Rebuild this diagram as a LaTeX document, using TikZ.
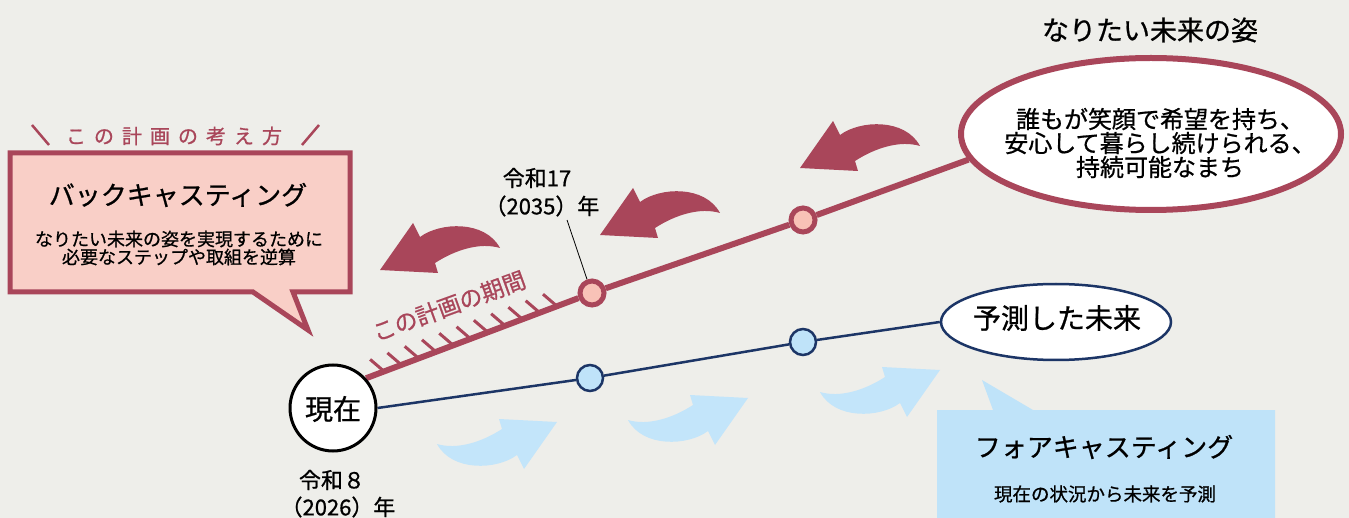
\documentclass[tikz,border=0pt]{standalone}
\usepackage{fontspec}
\setmainfont{Noto Sans CJK JP}[FakeBold=0.8]
\usetikzlibrary{calc,shapes.geometric,backgrounds}
\definecolor{bg}{HTML}{EEEEEA}
\definecolor{wine}{HTML}{A9465A}
\definecolor{pinkfill}{HTML}{F9CFC7}
\definecolor{dotpink}{HTML}{F8C2B7}
\definecolor{navy}{HTML}{1C3566}
\definecolor{skyfill}{HTML}{BFE3F9}
\definecolor{arrowsky}{HTML}{C3E5FA}
\newcommand{\fsz}[1]{\fontsize{#1pt}{#1pt}\selectfont}
\tikzset{
  curvearrow/.pic={\path[pic actions] (0,0) -- (33,-47) -- (40,-33)
     .. controls (60,-48) and (105,-50) .. (120,-22)
     .. controls (100,-28) and (75,-20) .. (55,-7) -- (58,3) -- cycle;},
  reddot/.style={circle, draw=wine, line width=5pt, fill=dotpink, minimum size=24pt, inner sep=0},
  bluedot/.style={circle, draw=navy, line width=2.5pt, fill=skyfill, minimum size=26pt, inner sep=0},
  txt/.style={inner sep=0, align=center, text=black},
  redline/.style={draw=wine, line width=6pt},
  blueline/.style={draw=navy, line width=2.5pt},
  tick/.style={draw=wine, line width=3pt},
}
\begin{document}
\begin{tikzpicture}[x=1pt,y=-1pt]
\useasboundingbox (0,0) rectangle (1349,518);
% title of box
\draw[wine, line width=2.5pt] (32,125) -- (49,145);
\draw[wine, line width=2.5pt] (319,125) -- (302,145);
\node[txt, text=wine, font=\fsz{20}] (ttl) at (174,136) {こ\hspace{8pt}の\hspace{8pt}計\hspace{8pt}画\hspace{8pt}の\hspace{8pt}考\hspace{8pt}え\hspace{8pt}方};
\node[txt, font=\fsz{26}] (back) at (178,195) {バックキャスティング};
\node[txt, font=\fsz{18}] (backsub) at (179,248) {\fontsize{18pt}{22pt}\selectfont なりたい未来の姿を実現するために\\必要なステップや取組を逆算};
% forecasting box text
\node[txt, font=\fsz{26}] (fore) at (1104,447) {フォアキャスティング};
\node[txt, font=\fsz{18.5}] (foresub) at (1105,494) {現在の状況から未来を予測};
% main nodes
\node[circle, draw=black, line width=3pt, fill=white, minimum size=86pt, inner sep=0] (now) at (333,408) {};
\node[txt, font=\fsz{28}] (nowtxt) at (333,409) {現在};
\node[txt, font=\fsz{22}] (y26a) at (332,480) {令和８};
\node[txt, font=\fsz{22}] (y26b) at (338,507) {（2026）年};
\node[reddot] (r1) at (592,293) {};
\node[reddot] (r2) at (803,220) {};
\node[bluedot] (b1) at (590,378) {};
\node[bluedot] (b2) at (803,342) {};
\node[ellipse, draw=wine, line width=6pt, fill=white, minimum width=380pt, minimum height=152pt, inner sep=0] (goal) at (1151,134) {};
\node[txt, font=\fsz{24}] (goaltxt) at (1160,143) {\fontsize{24pt}{31pt}\selectfont 誰もが笑顔で希望を持ち、\\安心して暮らし続けられる、\\持続可能なまち};
\node[txt, font=\fsz{27}] (goalttl) at (1150,30) {なりたい未来の姿};
\node[ellipse, draw=navy, line width=2.5pt, fill=white, minimum width=230pt, minimum height=76pt, inner sep=0] (pred) at (1056,322) {};
\node[txt, font=\fsz{28}] (predtxt) at (1057,318) {予測した未来};
\node[txt, font=\fsz{22}] (y35a) at (537,178) {令和17};
\node[txt, font=\fsz{22}] (y35b) at (542,206) {（2035）年};
\node[txt, text=wine, font=\fsz{23}, rotate=20] (period) at (449,306) {この計画の期間};
\coordinate (ld) at (567,220);
\begin{scope}[on background layer]
  \fill[bg] (0,0) rectangle (1349,518);
  \path[fill=skyfill]
    (937,410) -- (993,410) -- (982,380) -- (1033,410) -- (1275,410) -- (1275,530) -- (937,530) -- cycle;
  \path[fill=pinkfill, draw=wine, line width=5pt, line join=miter]
    (10,153) -- (350,153) -- (350,292) -- (293,292) -- (308,330) -- (253,292) -- (10,292) -- cycle;
  \draw[redline] (now.42) -- (r1) -- (r2) -- (goal.188);
  \draw[blueline] (now.east) -- (b1) -- (b2) -- (pred.west);
  \foreach \i in {0,...,10} {
    \pgfmathsetmacro\t{0.08+\i*0.0765}
    \draw[tick] ($(now.42)!\t!(r1)$) -- ++(-14,-12);
  }
  \draw[black, line width=0.8pt] (ld) -- (r1.110);
\end{scope}
% arrows
\pic[fill=wine] at (380,270) {curvearrow};
\pic[fill=wine] at (600,235) {curvearrow};
\pic[fill=wine] at (800,168) {curvearrow};
\pic[fill=arrowsky, rotate=180] at (557,422) {curvearrow};
\pic[fill=arrowsky, rotate=180] at (748,398) {curvearrow};
\pic[fill=arrowsky, rotate=180] at (940,370) {curvearrow};
\end{tikzpicture}
\end{document}
